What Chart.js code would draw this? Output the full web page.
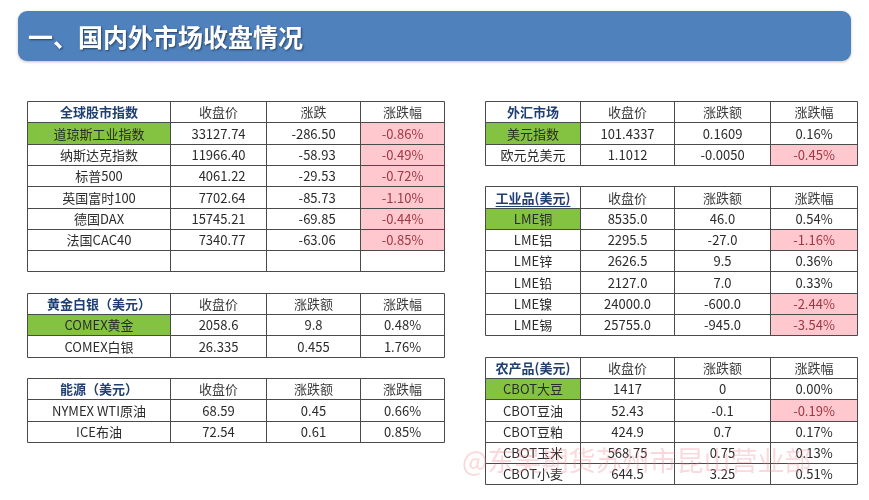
<!DOCTYPE html>
<html lang="zh-CN">
<head>
<meta charset="utf-8">
<title>国内外市场收盘情况</title>
<script src="https://cdn.jsdelivr.net/npm/chart.js@4/dist/chart.umd.min.js"></script>
<style>
  html, body { margin: 0; padding: 0; background: #fff; }
  #wrap { position: relative; width: 869px; height: 500px; overflow: hidden; }
  #marketTable { position: absolute; left: 0; top: 0; }
  #banner {
    position: absolute; left: 18px; top: 11px; width: 833px; height: 50px;
    background: #4f81bd; border-radius: 9px;
    box-shadow: 0 1px 3px rgba(0,0,0,0.25);
    color: #fff; font: bold 25px "Noto Sans CJK SC", sans-serif;
    line-height: 50px; padding-left: 10px; box-sizing: border-box;
    text-shadow: 1px 1px 2px rgba(0,0,0,0.5);
  }
</style>
</head>
<body>
<div id="wrap">
  <canvas id="marketTable" width="869" height="500"></canvas>
  <div id="banner">一、国内外市场收盘情况</div>
</div>
<script>
// =========================
// Data
// =========================

const globalHeader = ["全球股市指数", "收盘价", "涨跌", "涨跌幅"];
const globalNames  = ["道琼斯工业指数", "纳斯达克指数", "标普500", "英国富时100", "德国DAX", "法国CAC40"];
const globalClose  = ["33127.74", "11966.40", "4061.22", "7702.64", "15745.21", "7340.77"];
const globalChg    = ["-286.50", "-58.93", "-29.53", "-85.73", "-69.85", "-63.06"];
const globalPct    = ["-0.86%", "-0.49%", "-0.72%", "-1.10%", "-0.44%", "-0.85%"];

const goldHeader = ["黄金白银（美元）", "收盘价", "涨跌额", "涨跌幅"];
const goldNames  = ["COMEX黄金", "COMEX白银"];
const goldClose  = ["2058.6", "26.335"];
const goldChg    = ["9.8", "0.455"];
const goldPct    = ["0.48%", "1.76%"];

const energyHeader = ["能源（美元）", "收盘价", "涨跌额", "涨跌幅"];
const energyNames  = ["NYMEX WTI原油", "ICE布油"];
const energyClose  = ["68.59", "72.54"];
const energyChg    = ["0.45", "0.61"];
const energyPct    = ["0.66%", "0.85%"];

const fxHeader = ["外汇市场", "收盘价", "涨跌额", "涨跌幅"];
const fxNames  = ["美元指数", "欧元兑美元"];
const fxClose  = ["101.4337", "1.1012"];
const fxChg    = ["0.1609", "-0.0050"];
const fxPct    = ["0.16%", "-0.45%"];

const metalHeader = ["工业品(美元)", "收盘价", "涨跌额", "涨跌幅"];
const metalNames  = ["LME铜", "LME铝", "LME锌", "LME铅", "LME镍", "LME锡"];
const metalClose  = ["8535.0", "2295.5", "2626.5", "2127.0", "24000.0", "25755.0"];
const metalChg    = ["46.0", "-27.0", "9.5", "7.0", "-600.0", "-945.0"];
const metalPct    = ["0.54%", "-1.16%", "0.36%", "0.33%", "-2.44%", "-3.54%"];

const agriHeader = ["农产品(美元)", "收盘价", "涨跌额", "涨跌幅"];
const agriNames  = ["CBOT大豆", "CBOT豆油", "CBOT豆粕", "CBOT玉米", "CBOT小麦"];
const agriClose  = ["1417", "52.43", "424.9", "568.75", "644.5"];
const agriChg    = ["0", "-0.1", "0.7", "0.75", "3.25"];
const agriPct    = ["0.00%", "-0.19%", "0.17%", "0.13%", "0.51%"];

const watermark = "@东吴期货苏州市昆山营业部";

// =========================
// Layout (x in page units, y in table-row units)
// =========================

const LEFT_EDGES  = [27, 170, 266, 360, 444];
const RIGHT_EDGES = [485, 580, 674, 770, 857];
const ROW_COUNT = 18;

const tables = [
  { edges: LEFT_EDGES,  row: 0,  header: globalHeader, cols: [globalNames, globalClose, globalChg, globalPct], green: true,  blank: 1, rightBlock: true },
  { edges: LEFT_EDGES,  row: 9,  header: goldHeader,   cols: [goldNames, goldClose, goldChg, goldPct],         green: true },
  { edges: LEFT_EDGES,  row: 13, header: energyHeader, cols: [energyNames, energyClose, energyChg, energyPct], green: false },
  { edges: RIGHT_EDGES, row: 0,  header: fxHeader,     cols: [fxNames, fxClose, fxChg, fxPct],                 green: true },
  { edges: RIGHT_EDGES, row: 4,  header: metalHeader,  cols: [metalNames, metalClose, metalChg, metalPct],     green: true, underline: true },
  { edges: RIGHT_EDGES, row: 12, header: agriHeader,   cols: [agriNames, agriClose, agriChg, agriPct],         green: true }
];

const FONT = '"Noto Sans CJK SC", "Microsoft YaHei", sans-serif';
const GREEN = "#84c341";
const PINK = "#ffc7ce";
const PINK_TEXT = "#9c3842";
const LINE = "#4a4a4a";

// =========================
// Table drawing
// =========================

function drawTable(ctx, xs, ys, t) {
  const nData = t.cols[0].length;
  const nRows = 1 + nData + (t.blank || 0);
  const px = t.edges.map(v => Math.round(xs.getPixelForValue(v)) + 0.5);
  const py = [];
  for (let r = 0; r <= nRows; r++) py.push(Math.round(ys.getPixelForValue(t.row + r)) + 0.5);

  // fills
  for (let r = 1; r <= nData; r++) {
    if (t.green && r === 1) {
      ctx.fillStyle = GREEN;
      ctx.fillRect(px[0], py[r], px[1] - px[0], py[r + 1] - py[r]);
    }
    if (t.cols[3][r - 1].startsWith("-")) {
      ctx.fillStyle = PINK;
      ctx.fillRect(px[3], py[r], px[4] - px[3], py[r + 1] - py[r]);
    }
  }

  // header
  ctx.textBaseline = "middle";
  ctx.textAlign = "center";
  for (let c = 0; c < 4; c++) {
    const cx = (px[c] + px[c + 1]) / 2;
    const cy = (py[0] + py[1]) / 2 + 0.5;
    if (c === 0) {
      ctx.font = "bold 13px " + FONT;
      ctx.fillStyle = "#1f3f73";
    } else {
      ctx.font = "13px " + FONT;
      ctx.fillStyle = "#3a3a3a";
    }
    ctx.fillText(t.header[c], cx, cy);
    if (c === 0 && t.underline) {
      const w = ctx.measureText(t.header[c]).width;
      ctx.fillRect(cx - w / 2, cy + 8, w, 1);
    }
  }

  // body
  ctx.font = "13px " + FONT;
  for (let c = 0; c < 4; c++) {
    const col = t.cols[c];
    const cx = (px[c] + px[c + 1]) / 2;
    let maxW = 0;
    col.forEach(s => { maxW = Math.max(maxW, ctx.measureText(s).width); });
    const alignRight = t.rightBlock && c > 0;
    ctx.textAlign = alignRight ? "right" : "center";
    const tx = alignRight ? cx + maxW / 2 : cx;
    col.forEach((s, i) => {
      const cy = (py[i + 1] + py[i + 2]) / 2 + 0.5;
      ctx.fillStyle = (c === 3 && s.startsWith("-")) ? PINK_TEXT : "#2b2b2b";
      ctx.fillText(s, tx, cy);
    });
  }

  // grid
  ctx.strokeStyle = LINE;
  ctx.lineWidth = 1;
  ctx.beginPath();
  py.forEach(y => { ctx.moveTo(px[0], y); ctx.lineTo(px[4], y); });
  px.forEach(x => { ctx.moveTo(x, py[0]); ctx.lineTo(x, py[nRows]); });
  ctx.stroke();
}

const tablePlugin = {
  id: "marketTables",
  afterDraw(chart) {
    const { ctx } = chart;
    const xs = chart.scales.x;
    const ys = chart.scales.y;
    ctx.save();
    tables.forEach(t => drawTable(ctx, xs, ys, t));

    // watermark
    ctx.globalAlpha = 0.3;
    ctx.fillStyle = "#f07d8c";
    ctx.font = "27px " + FONT;
    ctx.textAlign = "left";
    ctx.textBaseline = "middle";
    ctx.fillText(watermark, xs.getPixelForValue(462), ys.getPixelForValue(16.9));
    ctx.restore();
  }
};

// =========================
// Create Chart
// =========================

const ctx = document.getElementById("marketTable").getContext("2d");

const marketChart = new Chart(ctx, {
  type: "scatter",
  data: { datasets: [{ data: [] }] },
  options: {
    responsive: false,
    animation: false,
    events: [],
    layout: { padding: { top: 101, bottom: 15.6, left: 0, right: 0 } },
    plugins: { legend: { display: false }, tooltip: { enabled: false } },
    scales: {
      x: { type: "linear", min: 0, max: 869, display: false },
      y: { type: "linear", min: 0, max: ROW_COUNT, reverse: true, display: false }
    }
  },
  plugins: [tablePlugin]
});
</script>
</body>
</html>
